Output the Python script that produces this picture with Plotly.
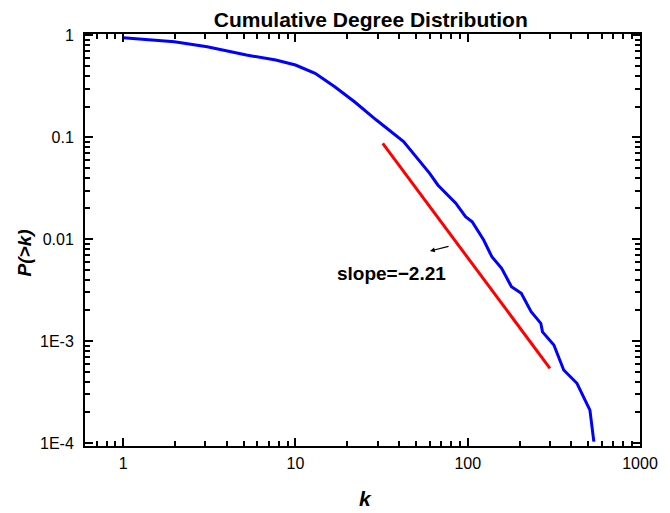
import plotly.graph_objects as go

# cumulative degree distribution
k_vals = [1, 1.98, 3.07, 5.19, 7.69, 10.0, 13.0, 16.9, 22.0, 29.5, 42.4, 60.1, 67.0,
          85.2, 97.1, 106.1, 123.7, 138.0, 157.3, 179.4, 204.5, 233.3, 265.6, 271.6,
          316.2, 360.6, 430.5, 512.0, 539.6]
p_vals = [0.947, 0.865, 0.773, 0.641, 0.572, 0.511, 0.424, 0.313, 0.223, 0.1475, 0.0907,
          0.0442, 0.034, 0.0225, 0.0166, 0.0148, 0.0098, 0.00672, 0.00517, 0.00341, 0.00294,
          0.00194, 0.00149, 0.00123, 0.000914, 0.00052, 0.000385, 0.00021, 0.000103]

# power-law fit line
fit_k = [32.1, 300]
fit_p = [0.0871, 0.00054]

y_tickvals = [1, 0.1, 0.01, 0.001, 0.0001]
y_ticktext = ["1", "0.1", "0.01", "1E-3", "1E-4"]
x_tickvals = [1, 10, 100, 1000]
x_ticktext = ["1", "10", "100", "1000"]

font = "Liberation Sans, Arial, sans-serif"

fig = go.Figure()
fig.add_trace(go.Scatter(x=k_vals, y=p_vals, mode="lines",
                         line=dict(color="#0000FF", width=3), showlegend=False))
fig.add_trace(go.Scatter(x=fit_k, y=fit_p, mode="lines",
                         line=dict(color="#FF0000", width=3), showlegend=False))

minor_x = [m * 10 ** e for e in range(-1, 3) for m in range(2, 10)]
minor_y = [m * 10 ** e for e in range(-5, 0) for m in range(2, 10)]

axis_common = dict(type="log", showline=True, linecolor="black", linewidth=2, mirror="ticks",
                   ticks="inside", ticklen=8, tickwidth=2, tickcolor="black", showgrid=False,
                   zeroline=False, tickfont=dict(family=font, size=16, color="black"))

fig.update_xaxes(range=[-0.222, 3.0], tickmode="array", tickvals=x_tickvals, ticktext=x_ticktext,
                 ticklabelstandoff=2,
                 minor=dict(tickvals=minor_x, ticks="inside", ticklen=5, tickwidth=1.5,
                            tickcolor="black", showgrid=False),
                 **axis_common)
fig.update_yaxes(range=[-4.03, 0.013], tickmode="array", tickvals=y_tickvals, ticktext=y_ticktext,
                 ticklabelstandoff=6,
                 minor=dict(tickvals=minor_y, ticks="inside", ticklen=5, tickwidth=1.5,
                            tickcolor="black", showgrid=False),
                 **axis_common)

fig.add_annotation(x=1.781, y=-2.117, xref="x", yref="y", ax=20, ay=-5,
                   showarrow=True, arrowhead=2, arrowsize=0.8, arrowwidth=1.2, arrowcolor="black",
                   text="")
fig.add_annotation(x=1.558, y=-2.333, xref="x", yref="y", showarrow=False,
                   text="<b>slope=\u22122.21</b>",
                   font=dict(family=font, size=19, color="black"))

fig.add_annotation(x=-0.1095, y=0.468, xref="paper", yref="paper", xanchor="center",
                   yanchor="middle", textangle=-90, showarrow=False,
                   text="<b><i>P(>k)</i></b>", font=dict(family=font, size=19, color="black"))
fig.add_annotation(x=0.505, y=-0.127, xref="paper", yref="paper", xanchor="center",
                   yanchor="middle", showarrow=False,
                   text="<b><i>k</i></b>", font=dict(family=font, size=21, color="black"))

# page body adds an 8px offset, so the figure is a bit smaller than the window
fig.update_layout(
    width=662, height=505,
    margin=dict(l=77, r=19, t=26, b=67),
    paper_bgcolor="white", plot_bgcolor="white",
    title=dict(text="<b>Cumulative Degree Distribution</b>", x=0.548, xanchor="center",
               y=0.977, yanchor="middle", font=dict(family=font, size=21, color="black")),
)

fig.write_html("out.html")
